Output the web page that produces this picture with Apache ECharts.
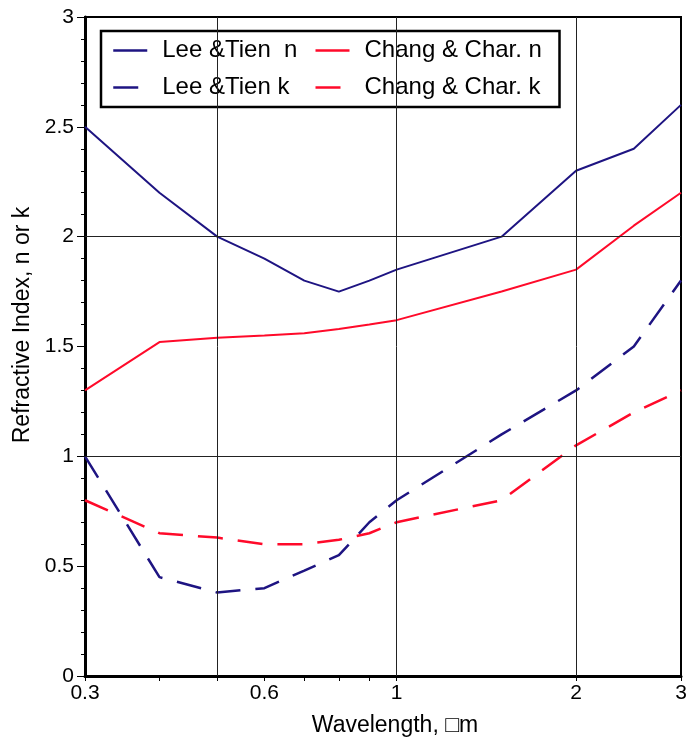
<!DOCTYPE html>
<html>
<head>
<meta charset="utf-8">
<script src="https://cdn.jsdelivr.net/npm/echarts@6/dist/echarts.min.js"></script>
<style>
html,body{margin:0;padding:0;background:#fff;}
#chart{width:690px;height:744px;}
</style>
</head>
<body>
<div id="chart"></div>
<script>
const wavelengths = [0.3, 0.4, 0.5, 0.6, 0.7, 0.8, 0.9, 1, 1.5, 2, 2.5, 3];
const leeN   = [2.5, 2.2, 2.0, 1.9, 1.8, 1.75, 1.8, 1.85, 2.0, 2.3, 2.4, 2.6];
const changN = [1.3, 1.52, 1.54, 1.55, 1.56, 1.58, 1.60, 1.62, 1.75, 1.85, 2.05, 2.2];
const leeK   = [1.0, 0.45, 0.38, 0.40, 0.48, 0.55, 0.70, 0.80, 1.1, 1.3, 1.5, 1.8];
const changK = [0.8, 0.65, 0.63, 0.60, 0.60, 0.62, 0.65, 0.70, 0.80, 1.05, 1.2, 1.3];
const xTickValues = [0.3, 0.4, 0.5, 0.6, 0.7, 0.8, 0.9, 1, 2, 3];
const xLabelValues = [0.3, 0.6, 1, 2, 3];
const xGridValues = [0.5, 1, 2];
const yGridValues = [1, 2];

const NAVY = '#1e1482';
const RED = '#ff0a2a';
const FONT = '"Liberation Sans", Arial, Helvetica, sans-serif';

function pairs(ys){ return wavelengths.map((x,i)=>[x, ys[i]]); }

const names = ['Lee &Tien  n', 'Lee &Tien k', 'Chang & Char. n', 'Chang & Char. k'];

const chart = echarts.init(document.getElementById('chart'), null, {renderer:'canvas'});
const option = {
  animation: false,
  backgroundColor: '#fff',
  grid: {left: 85, right: 9, top: 17, bottom: 68, show: true, borderColor: '#000', borderWidth: 2, backgroundColor: 'transparent'},
  legend: {
    orient: 'vertical',
    left: 101, top: 31,
    height: 66,
    padding: [6, 3, 6, 11],
    borderColor: '#000', borderWidth: 2.5,
    backgroundColor: '#fff',
    itemWidth: 34, itemHeight: 14, itemGap: 10,
    itemStyle: {opacity: 0},
    lineStyle: {width: 2.5},
    textStyle: {fontFamily: FONT, fontSize: 24, color: '#000', lineHeight: 27, padding: [0,0,0,10]},
    data: [
      {name: names[0], textStyle: {width: 142}},
      {name: names[1], textStyle: {width: 142}},
      {name: names[2], textStyle: {width: 192}},
      {name: names[3], textStyle: {width: 192}}
    ]
  },
  xAxis: {
    type: 'log', logBase: 10, min: 0.3, max: 3,
    name: 'Wavelength, \u25A1m', nameLocation: 'middle', nameGap: 38,
    nameTextStyle: {fontFamily: FONT, fontSize: 23, color: '#000', padding: [0,0,0,24]},
    axisLine: {show: true, lineStyle: {color: '#000', width: 3}},
    axisTick: {show: true, inside: false, length: 5, lineStyle: {color: '#000', width: 1}, customValues: xTickValues},
    axisLabel: {fontFamily: FONT, fontSize: 21, color: '#000', margin: 7, customValues: xLabelValues, showMinLabel: true, showMaxLabel: true},
    splitLine: {show: false},
    minorTick: {show: false}
  },
  yAxis: {
    type: 'value', min: 0, max: 3, interval: 0.5,
    name: 'Refractive Index, n or k', nameLocation: 'middle', nameGap: 47,
    nameTextStyle: {fontFamily: FONT, fontSize: 23, color: '#000', padding: [0,0,0,43]},
    axisLine: {show: true, lineStyle: {color: '#000', width: 3}},
    axisTick: {show: true, inside: false, length: 8, lineStyle: {color: '#000', width: 1}},
    minorTick: {show: true, splitNumber: 5, length: 4, lineStyle: {color: '#000', width: 1}},
    axisLabel: {fontFamily: FONT, fontSize: 21, color: '#000', margin: 11},
    splitLine: {show: false}
  },
  series: [
    {
      type: 'line', name: '_grid', data: [], silent: true, z: 1,
      markLine: {
        silent: true, symbol: ['none','none'], label: {show: false},
        lineStyle: {color: '#222', width: 1, type: 'solid'},
        data: xGridValues.map(v=>({xAxis: v})).concat(yGridValues.map(v=>({yAxis: v})))
      }
    },
    {type: 'line', name: names[0], data: pairs(leeN), showSymbol: false, symbol: 'none', z: 3,
     lineStyle: {color: NAVY, width: 2}, itemStyle: {color: NAVY}},
    {type: 'line', name: names[1], data: pairs(leeK), showSymbol: false, symbol: 'none', z: 3,
     lineStyle: {color: NAVY, width: 2.5, type: [25, 15]}, itemStyle: {color: NAVY}},
    {type: 'line', name: names[2], data: pairs(changN), showSymbol: false, symbol: 'none', z: 3,
     lineStyle: {color: RED, width: 2}, itemStyle: {color: RED}},
    {type: 'line', name: names[3], data: pairs(changK), showSymbol: false, symbol: 'none', z: 3,
     lineStyle: {color: RED, width: 2.5, type: [25, 15]}, itemStyle: {color: RED}}
  ]
};
chart.setOption(option);
</script>
</body>
</html>
